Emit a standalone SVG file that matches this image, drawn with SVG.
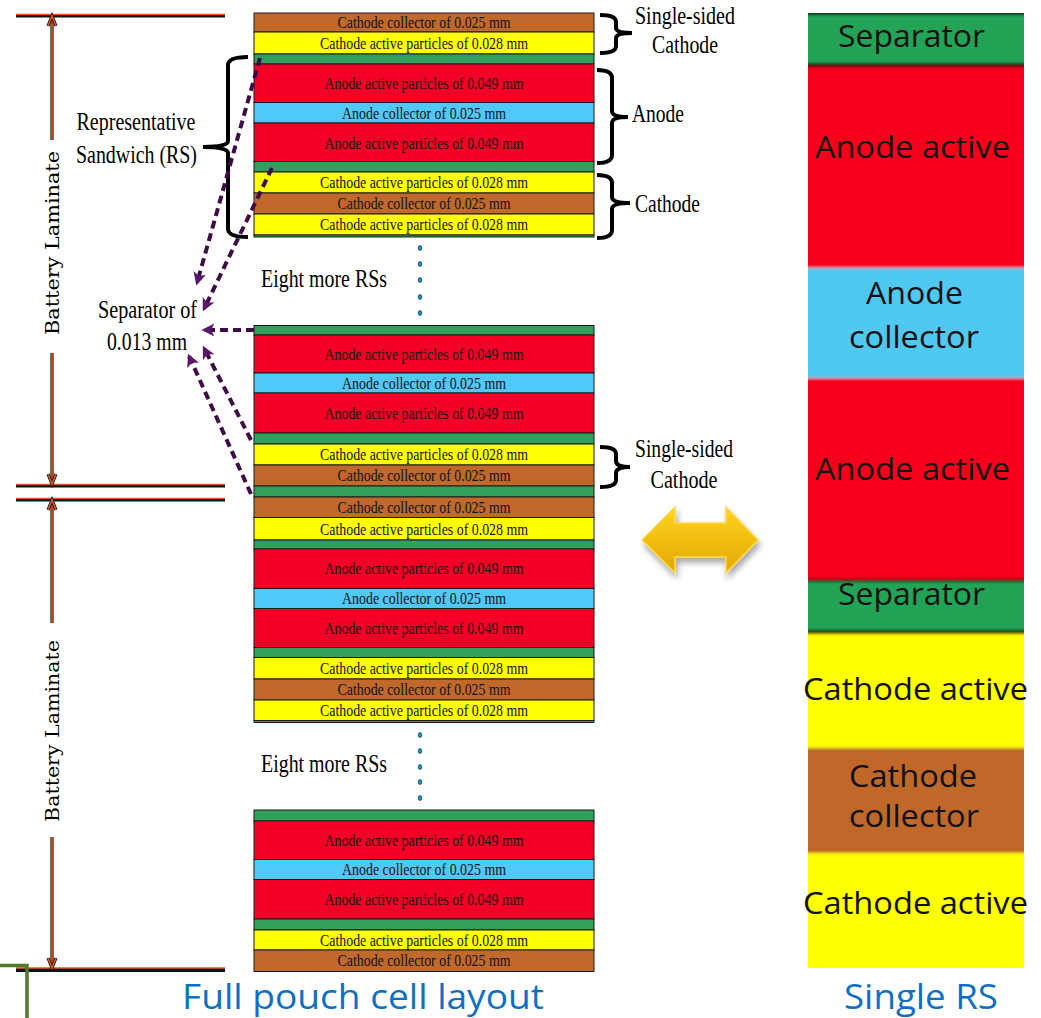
<svg xmlns="http://www.w3.org/2000/svg" width="1041" height="1018" viewBox="0 0 1041 1018">
<defs>
<style>
.br{fill:#C0692B}.ye{fill:#FFFF00}.gr{fill:#31A05A}.rd{fill:#F20025}.bl{fill:#50C8F8}
.ly rect{stroke:#1a1a1a;stroke-width:1}
.lt{font-family:"Liberation Serif","Times New Roman",serif;font-size:17px;fill:#111;text-anchor:middle;dominant-baseline:central}
.lb{font-family:"Liberation Serif","Times New Roman",serif;font-size:25px;fill:#000}
.bat{font-family:"DejaVu Serif",serif;font-size:19px;fill:#000;text-anchor:middle}
.rs{font-family:"Open Sans","Noto Sans",sans-serif;font-size:31px;fill:#111;text-anchor:middle}
.cap{font-family:"Open Sans","Noto Sans",sans-serif;font-size:34px;fill:#0F6FC6;text-anchor:middle}
.brace{fill:none;stroke:#000;stroke-width:4}
.dash{fill:none;stroke:#3E0B47;stroke-width:4;stroke-dasharray:8 5;marker-end:url(#pa)}
.dimk{stroke:#111;stroke-width:3.2;fill:none}
.dimo{stroke:#E0561E;stroke-width:1.6;fill:none}
.dot{fill:#1E8FD0;stroke:#123;stroke-width:0.6}
</style>
<marker id="pa" viewBox="0 0 10 10" refX="8" refY="5" markerWidth="13" markerHeight="13" markerUnits="userSpaceOnUse" orient="auto"><path d="M0,0 L10,5 L0,10 L2.5,5 z" fill="#5A1668"/></marker>
<linearGradient id="gold" x1="0" y1="0" x2="0" y2="1"><stop offset="0" stop-color="#FFD51F"/><stop offset="1" stop-color="#E3A700"/></linearGradient>
<filter id="shadow" x="-20%" y="-20%" width="150%" height="160%"><feGaussianBlur in="SourceAlpha" stdDeviation="3"/><feOffset dx="2" dy="5"/><feComponentTransfer><feFuncA type="linear" slope="0.35"/></feComponentTransfer><feMerge><feMergeNode/><feMergeNode in="SourceGraphic"/></feMerge></filter>
<filter id="vb" x="0" y="-0.05" width="1" height="1.1"><feGaussianBlur stdDeviation="0 1.6"/></filter>
<clipPath id="colclip"><rect x="808" y="13" width="216" height="955"/></clipPath>
</defs>
<rect width="1041" height="1018" fill="#fff"/>

<!-- Top stack -->
<g id="stack-top" class="ly">
<g id="t1"><rect class="br" x="254" y="13" width="340" height="19"/><text class="lt" x="424" y="22.5" textLength="173" lengthAdjust="spacingAndGlyphs">Cathode collector of 0.025 mm</text></g>
<g id="t2"><rect class="ye" x="254" y="32" width="340" height="22"/><text class="lt" x="424" y="43" textLength="208" lengthAdjust="spacingAndGlyphs">Cathode active particles of 0.028 mm</text></g>
<g id="t3"><rect class="gr" x="254" y="54" width="340" height="10"/></g>
<g id="t4"><rect class="rd" x="254" y="64" width="340" height="38.5"/><text class="lt" x="424" y="83" textLength="199" lengthAdjust="spacingAndGlyphs">Anode active particles of 0.049 mm</text></g>
<g id="t5"><rect class="bl" x="254" y="102.5" width="340" height="20.5"/><text class="lt" x="424" y="113" textLength="164" lengthAdjust="spacingAndGlyphs">Anode collector of 0.025 mm</text></g>
<g id="t6"><rect class="rd" x="254" y="123" width="340" height="38.5"/><text class="lt" x="424" y="143" textLength="199" lengthAdjust="spacingAndGlyphs">Anode active particles of 0.049 mm</text></g>
<g id="t7"><rect class="gr" x="254" y="161.5" width="340" height="10.5"/></g>
<g id="t8"><rect class="ye" x="254" y="172" width="340" height="21"/><text class="lt" x="424" y="182.5" textLength="208" lengthAdjust="spacingAndGlyphs">Cathode active particles of 0.028 mm</text></g>
<g id="t9"><rect class="br" x="254" y="193" width="340" height="21"/><text class="lt" x="424" y="203.5" textLength="173" lengthAdjust="spacingAndGlyphs">Cathode collector of 0.025 mm</text></g>
<g id="t10"><rect class="ye" x="254" y="214" width="340" height="21"/><text class="lt" x="424" y="224.5" textLength="208" lengthAdjust="spacingAndGlyphs">Cathode active particles of 0.028 mm</text></g>
<g id="t11"><rect class="gr" x="254" y="235" width="340" height="2"/></g>
</g>

<!-- Middle stack -->
<g id="stack-mid" class="ly">
<g id="m1"><rect class="gr" x="254" y="325.5" width="340" height="9.5"/></g>
<g id="m2"><rect class="rd" x="254" y="335" width="340" height="38"/><text class="lt" x="424" y="354" textLength="199" lengthAdjust="spacingAndGlyphs">Anode active particles of 0.049 mm</text></g>
<g id="m3"><rect class="bl" x="254" y="373" width="340" height="20"/><text class="lt" x="424" y="383" textLength="164" lengthAdjust="spacingAndGlyphs">Anode collector of 0.025 mm</text></g>
<g id="m4"><rect class="rd" x="254" y="393" width="340" height="40"/><text class="lt" x="424" y="413" textLength="199" lengthAdjust="spacingAndGlyphs">Anode active particles of 0.049 mm</text></g>
<g id="m5"><rect class="gr" x="254" y="433" width="340" height="11"/></g>
<g id="m6"><rect class="ye" x="254" y="444" width="340" height="21"/><text class="lt" x="424" y="454.5" textLength="208" lengthAdjust="spacingAndGlyphs">Cathode active particles of 0.028 mm</text></g>
<g id="m7"><rect class="br" x="254" y="465" width="340" height="21"/><text class="lt" x="424" y="475.5" textLength="173" lengthAdjust="spacingAndGlyphs">Cathode collector of 0.025 mm</text></g>
<g id="m8"><rect class="gr" x="254" y="486" width="340" height="11"/></g>
<g id="m9"><rect class="br" x="254" y="497" width="340" height="20.5"/><text class="lt" x="424" y="507.5" textLength="173" lengthAdjust="spacingAndGlyphs">Cathode collector of 0.025 mm</text></g>
<g id="m10"><rect class="ye" x="254" y="517.5" width="340" height="22.5"/><text class="lt" x="424" y="529" textLength="208" lengthAdjust="spacingAndGlyphs">Cathode active particles of 0.028 mm</text></g>
<g id="m11"><rect class="gr" x="254" y="540" width="340" height="9"/></g>
<g id="m12"><rect class="rd" x="254" y="549" width="340" height="39.5"/><text class="lt" x="424" y="568.5" textLength="199" lengthAdjust="spacingAndGlyphs">Anode active particles of 0.049 mm</text></g>
<g id="m13"><rect class="bl" x="254" y="588.5" width="340" height="20"/><text class="lt" x="424" y="598.5" textLength="164" lengthAdjust="spacingAndGlyphs">Anode collector of 0.025 mm</text></g>
<g id="m14"><rect class="rd" x="254" y="608.5" width="340" height="39"/><text class="lt" x="424" y="628" textLength="199" lengthAdjust="spacingAndGlyphs">Anode active particles of 0.049 mm</text></g>
<g id="m15"><rect class="gr" x="254" y="647.5" width="340" height="10"/></g>
<g id="m16"><rect class="ye" x="254" y="657.5" width="340" height="21.5"/><text class="lt" x="424" y="668" textLength="208" lengthAdjust="spacingAndGlyphs">Cathode active particles of 0.028 mm</text></g>
<g id="m17"><rect class="br" x="254" y="679" width="340" height="21"/><text class="lt" x="424" y="689.5" textLength="173" lengthAdjust="spacingAndGlyphs">Cathode collector of 0.025 mm</text></g>
<g id="m18"><rect class="ye" x="254" y="700" width="340" height="20.5"/><text class="lt" x="424" y="710.5" textLength="208" lengthAdjust="spacingAndGlyphs">Cathode active particles of 0.028 mm</text></g>
<g id="m19"><rect class="gr" x="254" y="720.5" width="340" height="2"/></g>
</g>

<!-- Bottom stack -->
<g id="stack-bot" class="ly">
<g id="b1"><rect class="gr" x="254" y="810" width="340" height="11"/></g>
<g id="b2"><rect class="rd" x="254" y="821" width="340" height="38.5"/><text class="lt" x="424" y="840" textLength="199" lengthAdjust="spacingAndGlyphs">Anode active particles of 0.049 mm</text></g>
<g id="b3"><rect class="bl" x="254" y="859.5" width="340" height="20"/><text class="lt" x="424" y="869.5" textLength="164" lengthAdjust="spacingAndGlyphs">Anode collector of 0.025 mm</text></g>
<g id="b4"><rect class="rd" x="254" y="879.5" width="340" height="39.5"/><text class="lt" x="424" y="899" textLength="199" lengthAdjust="spacingAndGlyphs">Anode active particles of 0.049 mm</text></g>
<g id="b5"><rect class="gr" x="254" y="919" width="340" height="11"/></g>
<g id="b6"><rect class="ye" x="254" y="930" width="340" height="20"/><text class="lt" x="424" y="940" textLength="208" lengthAdjust="spacingAndGlyphs">Cathode active particles of 0.028 mm</text></g>
<g id="b7"><rect class="br" x="254" y="950" width="340" height="21.5"/><text class="lt" x="424" y="960.5" textLength="173" lengthAdjust="spacingAndGlyphs">Cathode collector of 0.025 mm</text></g>
</g>

<!-- Continuation dots -->
<g id="dots-1">
<ellipse class="dot" cx="420" cy="248" rx="1.8" ry="2.6"/><ellipse class="dot" cx="420" cy="264" rx="1.8" ry="2.6"/><ellipse class="dot" cx="420" cy="280" rx="1.8" ry="2.6"/><ellipse class="dot" cx="420" cy="297" rx="1.8" ry="2.6"/><ellipse class="dot" cx="420" cy="313" rx="1.8" ry="2.6"/>
</g>
<g id="dots-2">
<ellipse class="dot" cx="420" cy="735" rx="1.8" ry="2.6"/><ellipse class="dot" cx="420" cy="751" rx="1.8" ry="2.6"/><ellipse class="dot" cx="420" cy="767" rx="1.8" ry="2.6"/><ellipse class="dot" cx="420" cy="782" rx="1.8" ry="2.6"/><ellipse class="dot" cx="420" cy="798" rx="1.8" ry="2.6"/>
</g>

<!-- Braces and labels -->
<g id="lbl-single-top">
<path class="brace" d="M600,15 Q616,15 616,22 L616,28 Q616,33 632,33 Q616,33 616,38 L616,46 Q616,53 600,53"/>
<text class="lb" x="685" y="24" text-anchor="middle" textLength="100" lengthAdjust="spacingAndGlyphs">Single-sided</text>
<text class="lb" x="685" y="53" text-anchor="middle" textLength="66" lengthAdjust="spacingAndGlyphs">Cathode</text>
</g>
<g id="lbl-anode">
<path class="brace" d="M597,70 Q612,70 612,78 L612,111 Q612,117 628,117 Q612,117 612,123 L612,155 Q612,163 597,163"/>
<text class="lb" x="632" y="122" textLength="52" lengthAdjust="spacingAndGlyphs">Anode</text>
</g>
<g id="lbl-cathode">
<path class="brace" d="M597,175 Q612,175 612,183 L612,197 Q612,203 630,203 Q612,203 612,209 L612,230 Q612,238 597,238"/>
<text class="lb" x="635" y="212" textLength="65" lengthAdjust="spacingAndGlyphs">Cathode</text>
</g>
<g id="lbl-single-mid">
<path class="brace" d="M600,447 Q616,447 616,454 L616,461 Q616,467 630,467 Q616,467 616,473 L616,480 Q616,487 600,487"/>
<text class="lb" x="684" y="457" text-anchor="middle" textLength="98" lengthAdjust="spacingAndGlyphs">Single-sided</text>
<text class="lb" x="684" y="488" text-anchor="middle" textLength="67" lengthAdjust="spacingAndGlyphs">Cathode</text>
</g>
<g id="lbl-rs">
<path class="brace" d="M248,57 Q228,57 228,65 L228,141 Q228,147 203,147 Q228,147 228,153 L228,229 Q228,237 248,237"/>
<text class="lb" x="136" y="130" text-anchor="middle" textLength="119" lengthAdjust="spacingAndGlyphs">Representative</text>
<text class="lb" x="136.5" y="163" text-anchor="middle" textLength="121" lengthAdjust="spacingAndGlyphs">Sandwich (RS)</text>
</g>
<g id="lbl-separator">
<text class="lb" x="147.5" y="318" text-anchor="middle" textLength="99" lengthAdjust="spacingAndGlyphs">Separator of</text>
<text class="lb" x="147" y="350" text-anchor="middle" textLength="80" lengthAdjust="spacingAndGlyphs">0.013 mm</text>
</g>
<g id="lbl-eight-1"><text class="lb" x="261" y="287" textLength="126" lengthAdjust="spacingAndGlyphs">Eight more RSs</text></g>
<g id="lbl-eight-2"><text class="lb" x="261" y="772" textLength="126" lengthAdjust="spacingAndGlyphs">Eight more RSs</text></g>

<!-- Battery laminate dimension labels -->
<g id="lbl-bat-1"><text class="bat" transform="translate(59,243) rotate(-90)" textLength="184" lengthAdjust="spacingAndGlyphs">Battery Laminate</text></g>
<g id="lbl-bat-2"><text class="bat" transform="translate(59,731) rotate(-90)" textLength="182" lengthAdjust="spacingAndGlyphs">Battery Laminate</text></g>

<!-- Connectors -->
<g id="connectors">
<g id="dim-lines">
<line class="dimk" x1="16" y1="16" x2="225" y2="16"/><line class="dimo" x1="16" y1="14.5" x2="225" y2="14.5"/>
<line class="dimk" x1="16" y1="486" x2="225" y2="486"/><line class="dimo" x1="16" y1="484.5" x2="225" y2="484.5"/>
<line class="dimk" x1="16" y1="500" x2="225" y2="500"/><line class="dimo" x1="16" y1="498.5" x2="225" y2="498.5"/>
<line class="dimk" x1="16" y1="970" x2="225" y2="970" style="stroke-width:4"/><line class="dimo" x1="16" y1="968" x2="225" y2="968"/>
<line class="dimk" x1="52" y1="17" x2="52" y2="140"/><line class="dimo" x1="52" y1="17" x2="52" y2="140"/>
<path class="dimk" d="M48,26 L52,16 L56,26"/><path class="dimo" d="M48,26 L52,16 L56,26"/>
<line class="dimk" x1="52" y1="353" x2="52" y2="483"/><line class="dimo" x1="52" y1="353" x2="52" y2="483"/>
<path class="dimk" d="M48,474 L52,484 L56,474"/><path class="dimo" d="M48,474 L52,484 L56,474"/>
<line class="dimk" x1="52" y1="501" x2="52" y2="623"/><line class="dimo" x1="52" y1="501" x2="52" y2="623"/>
<path class="dimk" d="M48,510 L52,500 L56,510"/><path class="dimo" d="M48,510 L52,500 L56,510"/>
<line class="dimk" x1="52" y1="837" x2="52" y2="967"/><line class="dimo" x1="52" y1="837" x2="52" y2="967"/>
<path class="dimk" d="M48,958 L52,968 L56,958"/><path class="dimo" d="M48,958 L52,968 L56,958"/>
</g>
<g id="sep-arrows">
<path class="dash" d="M260,58 L197,283"/>
<path class="dash" d="M272,168 L204,309"/>
<path class="dash" d="M254,330 L204,330"/>
<path class="dash" d="M251,440 L204,348"/>
<path class="dash" d="M251,494 L189,356"/>
</g>
</g>

<!-- Green corner bracket -->
<path id="corner" d="M0,965.5 L27,965.5 L27,1018" fill="none" stroke="#4F7A28" stroke-width="3.5"/>

<!-- Double arrow -->
<g id="swap-arrow" filter="url(#shadow)">
<polygon points="642,540 675,507 675,523 726,523 726,507 758,540 726,573 726,557 675,557 675,573" fill="url(#gold)" stroke="#FFD84A" stroke-width="1.5" stroke-linejoin="miter"/>
</g>

<!-- Single RS column -->
<g id="single-rs">
<g clip-path="url(#colclip)">
<g filter="url(#vb)">
<rect x="808" y="10" width="216" height="6" fill="#000"/>
<rect x="808" y="15" width="216" height="48" fill="#22A354"/>
<rect x="808" y="63" width="216" height="4" fill="#000"/>
<rect x="808" y="67" width="216" height="201" fill="#F8001E"/>
<rect x="808" y="268" width="216" height="110" fill="#4FC8F2"/>
<rect x="808" y="378" width="216" height="201" fill="#F8001E"/>
<rect x="808" y="579" width="216" height="3" fill="#000"/>
<rect x="808" y="582" width="216" height="48" fill="#22A354"/>
<rect x="808" y="630" width="216" height="4" fill="#000"/>
<rect x="808" y="634" width="216" height="114" fill="#FFFF00"/>
<rect x="808" y="748" width="216" height="105" fill="#C0682A"/>
<rect x="808" y="853" width="216" height="120" fill="#FFFF00"/>
</g>
</g>
<text class="rs" x="911.5" y="47" textLength="147" lengthAdjust="spacingAndGlyphs">Separator</text>
<text class="rs" x="912.5" y="158" textLength="195" lengthAdjust="spacingAndGlyphs">Anode active</text>
<text class="rs" x="914.5" y="304" textLength="97" lengthAdjust="spacingAndGlyphs">Anode</text>
<text class="rs" x="914" y="348" textLength="130" lengthAdjust="spacingAndGlyphs">collector</text>
<text class="rs" x="912.5" y="480" textLength="195" lengthAdjust="spacingAndGlyphs">Anode active</text>
<text class="rs" x="911.5" y="605" textLength="147" lengthAdjust="spacingAndGlyphs">Separator</text>
<text class="rs" x="915.5" y="700" textLength="225" lengthAdjust="spacingAndGlyphs">Cathode active</text>
<text class="rs" x="913" y="787" textLength="128" lengthAdjust="spacingAndGlyphs">Cathode</text>
<text class="rs" x="914" y="827" textLength="130" lengthAdjust="spacingAndGlyphs">collector</text>
<text class="rs" x="915.5" y="914" textLength="225" lengthAdjust="spacingAndGlyphs">Cathode active</text>
</g>

<!-- Captions -->
<g id="cap-full"><text class="cap" x="363" y="1009" textLength="362" lengthAdjust="spacingAndGlyphs">Full pouch cell layout</text></g>
<g id="cap-single"><text class="cap" x="921" y="1009" textLength="154" lengthAdjust="spacingAndGlyphs">Single RS</text></g>
</svg>
